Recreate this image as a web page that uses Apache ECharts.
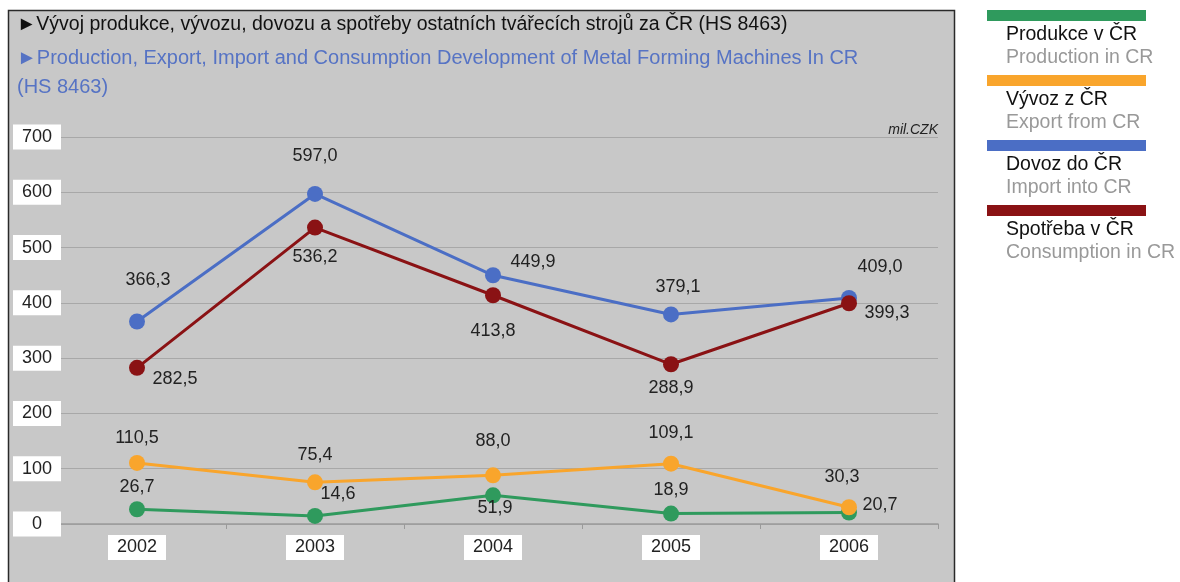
<!DOCTYPE html>
<html><head><meta charset="utf-8">
<script src="https://cdn.jsdelivr.net/npm/echarts@6/dist/echarts.min.js"></script>
<style>html,body{margin:0;padding:0;background:#fff}#c{width:1180px;height:582px}</style>
</head><body><div id="c"></div>
<script>
const years = ['2002','2003','2004','2005','2006'];
const yTicks = [0,100,200,300,400,500,600,700];
const production = [26.7, 14.6, 51.9, 18.9, 20.7];
const exportVals = [110.5, 75.4, 88.0, 109.1, 30.3];
const importVals = [366.3, 597.0, 449.9, 379.1, 409.0];
const consumption = [282.5, 536.2, 413.8, 288.9, 399.3];
const namesCz = ['Produkce v ČR','Vývoz z ČR','Dovoz do ČR','Spotřeba v ČR'];
const namesEn = ['Production in CR','Export from CR','Import into CR','Consumption in CR'];
const titleCz = '►Vývoj produkce, vývozu, dovozu a spotřeby ostatních tvářecích strojů za ČR (HS 8463)';
const titleEn1 = '►Production, Export, Import and Consumption Development of Metal Forming Machines In CR';
const titleEn2 = '(HS 8463)';
const unit = 'mil.CZK';

const colors = ['#2f9a5d','#f9a52c','#4b6ec5','#8a1214'];
// label offsets (dx,dy) of label centre from point centre — styling only
const offs = [
  [[0,-22],[23,-22],[2,13],[0,-24],[31,-8]],
  [[0,-25],[0,-27],[0,-34],[0,-31],[-7,-30]],
  [[11,-41],[0,-38],[40,-13],[7,-27],[31,-31]],
  [[38,11],[0,29],[0,36],[0,24],[38,10]]
];
const SYM = 16;
const fmt = v => v.toFixed(1).replace('.', ',');
function mk(vals, si){
  return vals.map((v,i)=>({value:v, label:{position:[SYM/2+offs[si][i][0], SYM/2+offs[si][i][1]]}}));
}
const allVals = [production, exportVals, importVals, consumption];
const FONT = '"Liberation Sans", Arial, sans-serif';

const series = allVals.map((vals,si)=>({
  name: namesCz[si], type:'line', data: mk(vals,si),
  symbol:'circle', symbolSize:SYM, showAllSymbol:true,
  lineStyle:{color:colors[si], width:3}, itemStyle:{color:colors[si]},
  label:{show:true, align:'center', verticalAlign:'middle', fontSize:18, color:'#222', fontFamily:FONT,
         formatter:p=>fmt(p.value)},
  emphasis:{disabled:true}, animation:false, z: 3+si
}));

const graphics = [
  {type:'rect', shape:{x:8.5,y:10.5,width:946,height:600}, style:{fill:'#c8c8c8', stroke:'#2a2a2a', lineWidth:1.5}, z:-10, silent:true},
  {type:'text', x:17, y:25, style:{text:titleCz, font:'19.5px '+FONT, fill:'#111', verticalAlign:'middle'}},
  {type:'text', x:17, y:58, style:{text:titleEn1, font:'20px '+FONT, fill:'#5673c4', verticalAlign:'middle'}},
  {type:'text', x:17, y:87, style:{text:titleEn2, font:'20px '+FONT, fill:'#5673c4', verticalAlign:'middle'}},
  {type:'text', x:938, y:130, style:{text:unit, font:'italic 14px '+FONT, fill:'#222', align:'right', verticalAlign:'middle'}}
];
for (let i=0;i<4;i++){
  const y0 = 10 + i*65;
  graphics.push({type:'rect', shape:{x:987,y:y0,width:159,height:11}, style:{fill:colors[i]}});
  graphics.push({type:'text', x:1006, y:y0+25, style:{text:namesCz[i], font:'19.5px '+FONT, fill:'#111', verticalAlign:'middle'}});
  graphics.push({type:'text', x:1006, y:y0+48, style:{text:namesEn[i], font:'19.5px '+FONT, fill:'#999', verticalAlign:'middle'}});
}

const chart = echarts.init(document.getElementById('c'));
chart.setOption({
  backgroundColor:'#fff',
  animation:false,
  graphic: graphics,
  grid:{left:48, right:242, top:137, bottom:58},
  xAxis:{type:'category', data:years, boundaryGap:true,
    axisLine:{lineStyle:{color:'#9a9a9a', width:1.5}},
    axisTick:{show:true, length:5, lineStyle:{color:'#9a9a9a'}},
    axisLabel:{margin:11, color:'#222', fontSize:18, fontFamily:FONT, backgroundColor:'#fff',
      width:58, height:25, lineHeight:25, align:'center'}},
  yAxis:{type:'value', min:yTicks[0], max:yTicks[yTicks.length-1], interval:100,
    axisLine:{show:false}, axisTick:{show:false},
    splitLine:{lineStyle:{color:'#a8a8a8', width:1}},
    axisLabel:{margin:11, color:'#222', fontSize:18, fontFamily:FONT, backgroundColor:'#fff',
      width:48, height:25, lineHeight:25, align:'center', verticalAlign:'middle'}},
  series: series
});
</script></body></html>
